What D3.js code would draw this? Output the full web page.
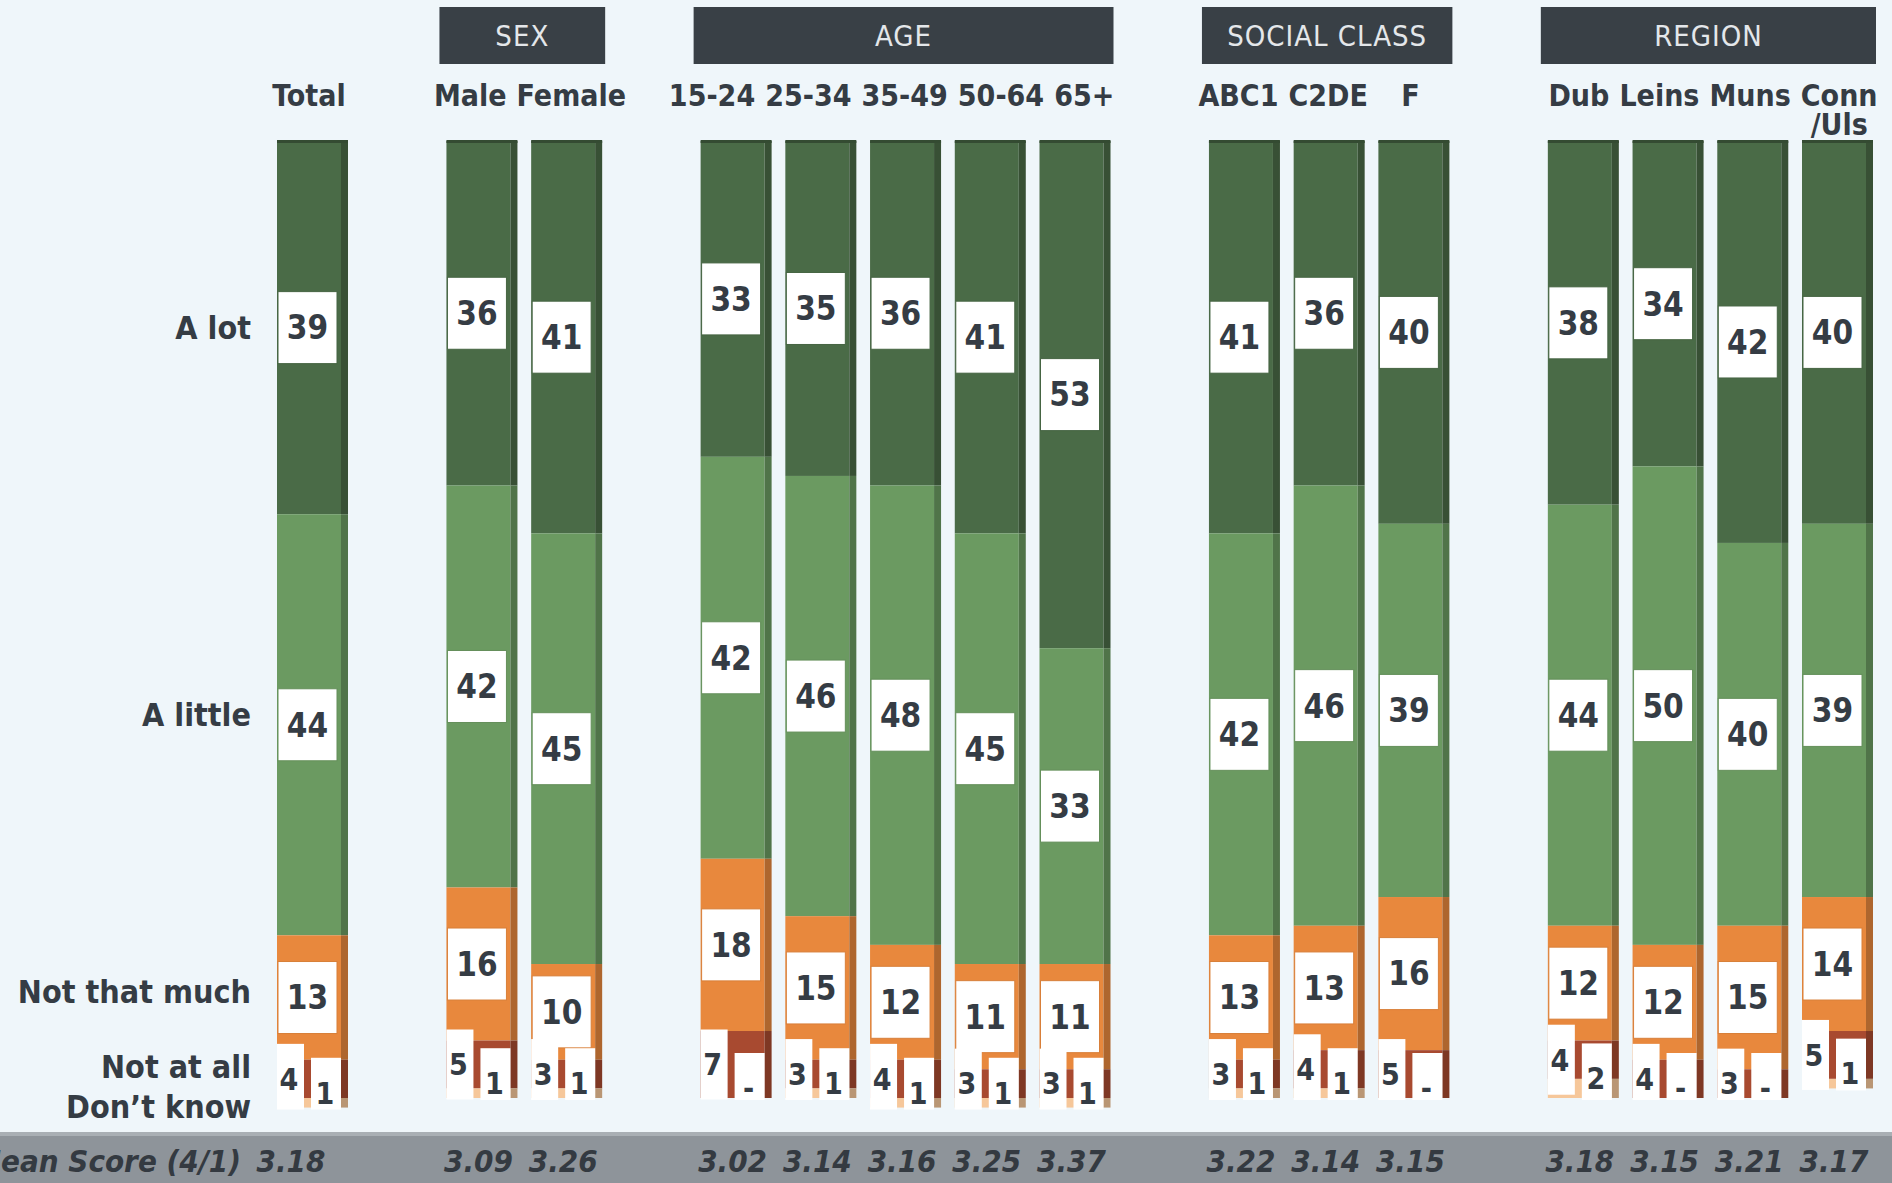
<!DOCTYPE html>
<html>
<head>
<meta charset="utf-8">
<script src="https://cdn.jsdelivr.net/npm/d3@7"></script>
<style>
  html, body { margin: 0; padding: 0; background: #eff6fa; }
  svg { display: block; }
  text { font-family: "DejaVu Sans Condensed", "DejaVu Sans", sans-serif; font-stretch: condensed; }
</style>
</head>
<body>
<svg id="chart" width="1892" height="1183"></svg>
<script>
// Breakdown columns and the group each belongs to
const categories = ["Total", "Male", "Female", "15-24", "25-34", "35-49", "50-64", "65+",
                    "ABC1", "C2DE", "F", "Dub", "Leins", "Muns", "Conn/Uls"];
const groupOf = ["", "SEX", "SEX", "AGE", "AGE", "AGE", "AGE", "AGE",
                 "SOCIAL CLASS", "SOCIAL CLASS", "SOCIAL CLASS", "REGION", "REGION", "REGION", "REGION"];
const groupTitles = ["SEX", "AGE", "SOCIAL CLASS", "REGION"];

// Response shares (%), one value per column
const aLot        = [39, 36, 41, 33, 35, 36, 41, 53, 41, 36, 40, 38, 34, 42, 40];
const aLittle     = [44, 42, 45, 42, 46, 48, 45, 33, 42, 46, 39, 44, 50, 40, 39];
const notThatMuch = [13, 16, 10, 18, 15, 12, 11, 11, 13, 13, 16, 12, 12, 15, 14];
const notAtAll    = [ 4,  5,  3,  7,  3,  4,  3,  3,  3,  4,  5,  4,  4,  3,  5];
const dontKnow    = [ 1,  1,  1,  0,  1,  1,  1,  1,  1,  1,  0,  2,  0,  0,  1];

const responseKeys   = ["aLot", "aLittle", "notThatMuch", "notAtAll", "dontKnow"];
const responseLabels = ["A lot", "A little", "Not that much", "Not at all", "Don’t know"];
const responseColors = ["#4a6b47", "#6b9a61", "#e8883d", "#a84a30", "#f6c79a"];

const meanScores = ["3.18", "3.09", "3.26", "3.02", "3.14", "3.16", "3.25", "3.37",
                    "3.22", "3.14", "3.15", "3.18", "3.15", "3.21", "3.17"];
const meanLabel = "Mean Score (4/1)";

// ---------------------------------------------------------------
const svg = d3.select("#chart");
const W = 1892, H = 1183;
const ink = "#353c44";

svg.append("rect").attr("width", W).attr("height", H).attr("fill", "#eff6fa");

// Slots: columns plus an empty slot between groups
const slots = [];
categories.forEach((c, i) => {
  if (i > 0 && groupOf[i] !== groupOf[i - 1]) slots.push("gap-" + i);
  slots.push(c);
});

const x = d3.scaleBand().domain(slots).range([277, 1873]).paddingInner(0.162).paddingOuter(0);
const y = d3.scaleLinear().domain([0, 100]).range([141, 1098]);

const sideW = 7;
const bw = x.bandwidth();
const faceW = bw - sideW;
const faceMid = c => x(c) + faceW / 2;

const rows = categories.map((c, i) => ({
  cat: c, aLot: aLot[i], aLittle: aLittle[i], notThatMuch: notThatMuch[i],
  notAtAll: notAtAll[i], dontKnow: dontKnow[i]
}));
const series = d3.stack().keys(responseKeys)(rows);

// ---- bars: front face + darker right side ----
const barG = svg.append("g");
series.forEach((s, k) => {
  const col = responseColors[k];
  const side = d3.color(col).darker(0.8).formatHex();
  barG.selectAll(null).data(s).join("rect")
    .attr("x", d => x(d.data.cat))
    .attr("y", d => y(d[0]))
    .attr("width", faceW)
    .attr("height", d => Math.max(0, y(d[1]) - y(d[0])))
    .attr("fill", col);
  barG.selectAll(null).data(s).join("rect")
    .attr("x", d => x(d.data.cat) + faceW)
    .attr("y", d => y(d[0]))
    .attr("width", sideW)
    .attr("height", d => Math.max(0, y(d[1]) - y(d[0])))
    .attr("fill", side);
});
// darker top edge on each bar
barG.selectAll(null).data(categories).join("rect")
  .attr("x", d => x(d)).attr("y", y(0) - 1)
  .attr("width", bw).attr("height", 3)
  .attr("fill", d3.color(responseColors[0]).darker(1).formatHex());

// ---- value labels ----
const labG = svg.append("g");
const barBottom = i => y(series[series.length - 1][i][1]);

// three main segments: white box centred on the segment
series.slice(0, 3).forEach((s, k) => {
  s.forEach(d => {
    const cy = (y(d[0]) + y(d[1])) / 2;
    const x0 = x(d.data.cat);
    labG.append("rect")
      .attr("x", x0 + 1).attr("y", cy - 36)
      .attr("width", faceW - 5).attr("height", 72)
      .attr("fill", "#ffffff")
      .attr("stroke", d3.color(responseColors[k]).darker(0.2).formatHex())
      .attr("stroke-width", 1);
    labG.append("text")
      .attr("x", x0 + 1 + (faceW - 5) / 2).attr("y", cy).attr("dy", "0.36em")
      .attr("text-anchor", "middle")
      .attr("font-size", 33).attr("font-weight", "bold").attr("fill", ink)
      .text(d[1] - d[0]);
  });
});

// small bottom segments: narrow boxes, left for "Not at all", right for "Don't know"
const small = [
  { k: 3, bx: 0,  bwid: 27, tx: 12, shift: 0 },
  { k: 4, bx: 34, bwid: faceW - 34, tx: 48, shift: -10 }
];
small.forEach(o => {
  series[o.k].forEach((d, i) => {
    const x0 = x(d.data.cat);
    const cy = (y(d[0]) + y(d[1])) / 2 + o.shift;
    const top = cy - 35;
    const bot = Math.min(cy + 35, barBottom(i) + 2);
    labG.append("rect")
      .attr("x", x0 + o.bx).attr("y", top)
      .attr("width", o.bwid).attr("height", bot - top)
      .attr("fill", "#ffffff");
    const v = d[1] - d[0];
    labG.append("text")
      .attr("x", x0 + o.tx).attr("y", cy).attr("dy", "0.36em")
      .attr("text-anchor", "middle")
      .attr("font-size", 30).attr("font-weight", "bold").attr("fill", ink)
      .text(v === 0 ? "-" : v);
  });
});

// ---- response (row) labels on the left, aligned to the Total column ----
const rowNudge = [0, -10, -6, -12, 4];
series.forEach((s, k) => {
  const d = s[0];
  svg.append("text")
    .attr("x", 251).attr("y", (y(d[0]) + y(d[1])) / 2 + rowNudge[k]).attr("dy", "0.36em")
    .attr("text-anchor", "end")
    .attr("font-size", 32).attr("font-weight", "bold").attr("fill", ink)
    .text(responseLabels[k]);
});

// ---- group headers ----
groupTitles.forEach(g => {
  const members = categories.filter((c, i) => groupOf[i] === g);
  const x0 = x(members[0]) - 7;
  const x1 = x(members[members.length - 1]) + bw + 3;
  svg.append("rect")
    .attr("x", x0).attr("y", 7).attr("width", x1 - x0).attr("height", 57)
    .attr("fill", "#394046");
  svg.append("text")
    .attr("x", (x0 + x1) / 2).attr("y", 36).attr("dy", "0.36em")
    .attr("text-anchor", "middle")
    .attr("font-size", 29).attr("letter-spacing", 1).attr("fill", "#e4e7ea")
    .text(g);
});

// ---- column labels: centred over each bar, pushed apart where they would collide ----
const colFont = 30, colGap = 10;
const measure = svg.append("text").attr("font-size", colFont).attr("font-weight", "bold");
const textWidth = s => { measure.text(s); return measure.node().getComputedTextLength(); };

const runs = [];
categories.forEach((c, i) => {
  if (i === 0 || groupOf[i] !== groupOf[i - 1]) runs.push([]);
  runs[runs.length - 1].push(c);
});
runs.forEach(run => {
  const parts = run.map(c => c.split("/"));
  const widths = parts.map(p => textWidth(p[0]));
  const cx = run.map(c => faceMid(c));
  for (let iter = 0; iter < 200; iter++) {
    let moved = false;
    for (let j = 0; j < run.length - 1; j++) {
      const need = (widths[j] + widths[j + 1]) / 2 + colGap;
      const have = cx[j + 1] - cx[j];
      if (have < need - 0.01) {
        const push = (need - have) / 2;
        cx[j] -= push; cx[j + 1] += push;
        moved = true;
      }
    }
    if (!moved) break;
  }
  run.forEach((c, j) => {
    svg.append("text")
      .attr("x", cx[j]).attr("y", 106)
      .attr("text-anchor", "middle")
      .attr("font-size", colFont).attr("font-weight", "bold").attr("fill", ink)
      .text(parts[j][0]);
    if (parts[j].length > 1) {
      svg.append("text")
        .attr("x", cx[j]).attr("y", 135)
        .attr("text-anchor", "middle")
        .attr("font-size", colFont).attr("font-weight", "bold").attr("fill", ink)
        .text("/" + parts[j][1]);
    }
  });
});
measure.remove();

// ---- mean score band ----
svg.append("rect").attr("x", 0).attr("y", 1132).attr("width", W).attr("height", H - 1132)
  .attr("fill", "#8e949a");
svg.append("rect").attr("x", 0).attr("y", 1132).attr("width", W).attr("height", 4)
  .attr("fill", "#a9afb4");
svg.append("text")
  .attr("x", 241).attr("y", 1172)
  .attr("text-anchor", "end")
  .attr("font-size", 31).attr("font-weight", "bold").attr("font-style", "italic")
  .attr("fill", "#343a41")
  .text(meanLabel);
categories.forEach((c, i) => {
  svg.append("text")
    .attr("x", faceMid(c) - (i === 0 ? 18 : 0)).attr("y", 1172)
    .attr("text-anchor", "middle")
    .attr("font-size", 31).attr("font-weight", "bold").attr("font-style", "italic")
    .attr("fill", "#343a41")
    .text(meanScores[i]);
});
</script>
</body>
</html>
